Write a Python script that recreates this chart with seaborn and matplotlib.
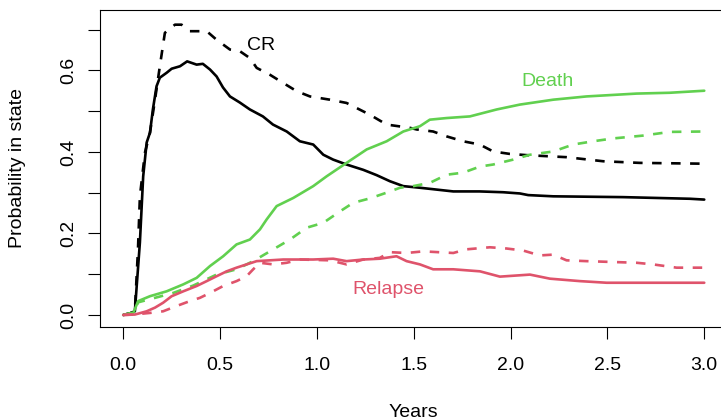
import numpy as np
import pandas as pd
import seaborn as sns
import matplotlib.pyplot as plt

# values (years, probability)
cr_x = [0, 0.035, 0.06, 0.086, 0.103, 0.121, 0.138, 0.153, 0.172, 0.189, 0.224, 0.25,
        0.293, 0.330, 0.379, 0.411, 0.448, 0.482, 0.515, 0.551, 0.602, 0.654, 0.721,
        0.773, 0.844, 0.912, 0.981, 1.033, 1.084, 1.153, 1.239, 1.308, 1.377, 1.446,
        1.532, 1.704, 1.840, 1.962, 2.048, 2.091, 2.22, 2.581, 2.926, 3.0]
cr_y = [0, 0.004, 0.009, 0.178, 0.340, 0.423, 0.447, 0.504, 0.561, 0.582, 0.594, 0.604,
        0.610, 0.622, 0.614, 0.616, 0.602, 0.585, 0.558, 0.536, 0.521, 0.504, 0.487,
        0.467, 0.450, 0.426, 0.418, 0.393, 0.381, 0.369, 0.356, 0.343, 0.328, 0.316,
        0.312, 0.303, 0.303, 0.301, 0.298, 0.294, 0.291, 0.289, 0.285, 0.283]

cr2_x = [0, 0.035, 0.06, 0.076, 0.086, 0.112, 0.138, 0.164, 0.189, 0.215, 0.267, 0.301,
         0.344, 0.431, 0.482, 0.551, 0.602, 0.654, 0.689, 0.758, 0.826, 0.895, 0.964,
         1.067, 1.153, 1.274, 1.360, 1.480, 1.515, 1.600, 1.670, 1.755, 1.841, 1.910,
         1.996, 2.083, 2.289, 2.478, 2.667, 3.0]
cr2_y = [0, 0.004, 0.009, 0.160, 0.291, 0.398, 0.447, 0.528, 0.610, 0.692, 0.712, 0.712,
         0.696, 0.696, 0.675, 0.651, 0.647, 0.630, 0.606, 0.589, 0.569, 0.549, 0.536,
         0.528, 0.520, 0.491, 0.467, 0.459, 0.455, 0.450, 0.438, 0.426, 0.418, 0.401,
         0.395, 0.392, 0.387, 0.377, 0.373, 0.371]

death_x = [0, 0.052, 0.077, 0.138, 0.224, 0.310, 0.379, 0.448, 0.516, 0.585, 0.654, 0.706,
           0.740, 0.792, 0.878, 0.981, 1.050, 1.153, 1.257, 1.360, 1.446, 1.532, 1.583,
           1.670, 1.790, 1.928, 2.048, 2.220, 2.392, 2.651, 2.822, 3.0]
death_y = [0, 0.005, 0.034, 0.046, 0.058, 0.075, 0.091, 0.120, 0.144, 0.173, 0.185, 0.210,
           0.234, 0.267, 0.287, 0.316, 0.340, 0.373, 0.406, 0.426, 0.450, 0.463, 0.479,
           0.483, 0.487, 0.504, 0.516, 0.528, 0.536, 0.543, 0.545, 0.550]

death2_x = [0, 0.052, 0.077, 0.172, 0.258, 0.361, 0.482, 0.585, 0.671, 0.757, 0.861, 0.947,
            1.033, 1.119, 1.187, 1.274, 1.360, 1.429, 1.497, 1.583, 1.670, 1.755, 1.842,
            1.910, 2.013, 2.100, 2.220, 2.323, 2.426, 2.530, 2.685, 2.822, 3.0]
death2_y = [0, 0.006, 0.031, 0.043, 0.054, 0.072, 0.099, 0.112, 0.132, 0.156, 0.185, 0.214,
            0.226, 0.254, 0.275, 0.286, 0.300, 0.312, 0.316, 0.324, 0.344, 0.349, 0.364,
            0.369, 0.381, 0.393, 0.401, 0.418, 0.426, 0.433, 0.440, 0.449, 0.450]

relapse_x = [0, 0.06, 0.121, 0.164, 0.206, 0.25, 0.31, 0.379, 0.431, 0.482, 0.534, 0.585,
             0.637, 0.689, 0.826, 0.981, 1.084, 1.153, 1.239, 1.325, 1.411, 1.463, 1.532,
             1.600, 1.704, 1.842, 1.945, 2.100, 2.203, 2.358, 2.496, 3.0]
relapse_y = [0, 0.001, 0.009, 0.018, 0.030, 0.046, 0.058, 0.071, 0.083, 0.095, 0.107, 0.116,
             0.124, 0.132, 0.136, 0.136, 0.138, 0.132, 0.136, 0.138, 0.144, 0.132, 0.124,
             0.112, 0.112, 0.107, 0.094, 0.099, 0.089, 0.083, 0.079, 0.079]

relapse2_x = [0, 0.052, 0.138, 0.206, 0.276, 0.344, 0.396, 0.448, 0.516, 0.585, 0.637, 0.671,
              0.706, 0.774, 0.844, 0.912, 1.067, 1.153, 1.239, 1.325, 1.377, 1.463, 1.549,
              1.704, 1.773, 1.893, 1.979, 2.065, 2.151, 2.220, 2.289, 2.392, 2.651, 2.736,
              2.857, 3.0]
relapse2_y = [0, 0.001, 0.005, 0.009, 0.022, 0.034, 0.042, 0.054, 0.071, 0.083, 0.095, 0.112,
              0.128, 0.124, 0.128, 0.136, 0.134, 0.124, 0.136, 0.140, 0.154, 0.152, 0.156,
              0.152, 0.161, 0.166, 0.163, 0.158, 0.146, 0.148, 0.134, 0.132, 0.128, 0.124,
              0.116, 0.116]

xticks = [0.0, 0.5, 1.0, 1.5, 2.0, 2.5, 3.0]
yticks = [0.0, 0.1, 0.2, 0.3, 0.4, 0.5, 0.6, 0.7]
ytick_labels = ["0.0", "", "0.2", "", "0.4", "", "0.6", ""]

BLACK = "#000000"
RED = "#DF536B"
GREEN = "#61D04F"

sns.set_theme(style="white")
plt.rcParams['font.family'] = ['Liberation Sans', 'DejaVu Sans']

fig = plt.figure(figsize=(7.21, 4.2), dpi=100)
ax = fig.add_axes([100 / 721, (420 - 326.7) / 420, 627.5 / 721, 316.7 / 420])

dash = (0, (3.6, 3.6))
series = [
    (cr_x, cr_y, BLACK, "-"),
    (cr2_x, cr2_y, BLACK, dash),
    (death_x, death_y, GREEN, "-"),
    (death2_x, death2_y, GREEN, dash),
    (relapse_x, relapse_y, RED, "-"),
    (relapse2_x, relapse2_y, RED, dash),
]
for xs, ys, col, ls in series:
    df = pd.DataFrame({"t": xs, "p": ys})
    sns.lineplot(data=df, x="t", y="p", ax=ax, color=col, linestyle=ls,
                 lw=1.9, sort=False, estimator=None, dash_capstyle="butt")

ax.text(0.711, 0.650, "CR", color=BLACK, fontsize=14, ha="center", va="baseline")
ax.text(2.190, 0.561, "Death", color=GREEN, fontsize=14, ha="center", va="baseline")
ax.text(1.370, 0.0515, "Relapse", color=RED, fontsize=14, ha="center", va="baseline")

ax.set_xlim(-0.12, 3.12)
ax.set_ylim(-0.0288, 0.748)
ax.set_xticks(xticks)
ax.set_xticklabels([f"{v:.1f}" for v in xticks])
ax.set_yticks(yticks)
ax.set_yticklabels(ytick_labels, rotation=90, va="center")

for s in ax.spines.values():
    s.set_visible(True)
    s.set_color("black")
    s.set_linewidth(0.8)

ax.tick_params(axis="both", direction="out", length=8.6, width=0.8,
               colors="black", labelsize=14, left=True, bottom=True)
ax.tick_params(axis="x", pad=13)
ax.tick_params(axis="y", pad=8)

ax.set_xlabel("Years", fontsize=14, color="black", va="center")
ax.set_ylabel("Probability in state", fontsize=14, color="black", va="center")
ax.xaxis.set_label_coords(0.5, -0.27)
ax.yaxis.set_label_coords(-0.132, 0.5)

fig.savefig("out.png", dpi=100)
